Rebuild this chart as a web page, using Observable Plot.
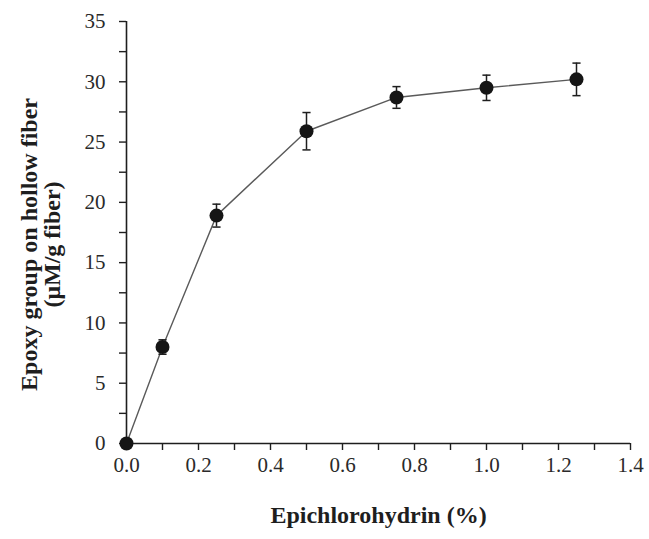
<!DOCTYPE html>
<html>
<head>
<meta charset="utf-8">
<script src="https://cdn.jsdelivr.net/npm/d3@7"></script>
<script src="https://cdn.jsdelivr.net/npm/@observablehq/plot@0.6"></script>
<style>
  html, body { margin: 0; padding: 0; background: #fff; }
</style>
</head>
<body>
<div id="chart"></div>
<script>
// Data
const epichlorohydrin = [0, 0.1, 0.25, 0.5, 0.75, 1.0, 1.25];
const epoxyGroup      = [0, 8.0, 18.9, 25.9, 28.7, 29.5, 30.2];
const errorValue      = [0, 0.6, 0.95, 1.55, 0.9, 1.05, 1.35];

const xMajorTicks = [0, 0.2, 0.4, 0.6, 0.8, 1.0, 1.2, 1.4];
const xMinorTicks = [0.1, 0.3, 0.5, 0.7, 0.9, 1.1, 1.3];
const yMajorTicks = [0, 5, 10, 15, 20, 25, 30, 35];
const yMinorTicks = [2.5, 7.5, 12.5, 17.5, 22.5, 27.5, 32.5];

const xTitle = "Epichlorohydrin (%)";
const yTitle = "Epoxy group on hollow fiber\n(μM/g fiber)";

const data = epichlorohydrin.map((x, i) => ({x, y: epoxyGroup[i], e: errorValue[i]}));
const errData = data.filter(d => d.e > 0);

const ink = "#1e1e1e";

// horizontal-line symbol for error-bar caps
const capSymbol = {
  draw(ctx, size) {
    const w = Math.sqrt(size) / 2;
    ctx.moveTo(-w, 0);
    ctx.lineTo(w, 0);
  }
};

const chart = Plot.plot({
  width: 649,
  height: 539,
  marginLeft: 126,
  marginRight: 19,
  marginTop: 21,
  marginBottom: 96,
  style: {fontFamily: "'Liberation Serif', 'Times New Roman', serif", fontSize: "21px", color: ink, background: "#fff"},
  x: {domain: [0, 1.4]},
  y: {domain: [0, 35]},
  marks: [
    Plot.axisX({ticks: xMinorTicks, tickFormat: () => "", tickSize: 7, stroke: ink, strokeWidth: 1.4, label: null}),
    Plot.axisX({ticks: xMajorTicks, tickFormat: d => d.toFixed(1), tickSize: 7, tickPadding: 7, stroke: ink, strokeWidth: 1.4, fill: "#2a2a2a", label: null}),
    Plot.axisY({ticks: yMinorTicks, tickFormat: () => "", tickSize: 7, tickPadding: 15, stroke: ink, strokeWidth: 1.4, label: null}),
    Plot.axisY({ticks: yMajorTicks, tickFormat: d => String(d), tickSize: 7, tickPadding: 14, stroke: ink, strokeWidth: 1.4, fill: "#2a2a2a", label: null}),
    Plot.ruleY([0], {stroke: ink, strokeWidth: 1.6}),
    Plot.ruleX([0], {stroke: ink, strokeWidth: 1.6}),
    Plot.line(data, {x: "x", y: "y", stroke: "#5a5a5a", strokeWidth: 1.4}),
    Plot.ruleX(errData, {x: "x", y1: d => d.y - d.e, y2: d => d.y + d.e, stroke: ink, strokeWidth: 1.5}),
    Plot.dot(errData, {x: "x", y: d => d.y + d.e, symbol: capSymbol, r: 4.6, stroke: ink, strokeWidth: 1.5, fill: "none"}),
    Plot.dot(errData, {x: "x", y: d => d.y - d.e, symbol: capSymbol, r: 4.6, stroke: ink, strokeWidth: 1.5, fill: "none"}),
    Plot.dot(data, {x: "x", y: "y", r: 7, fill: "#151515", stroke: "none"}),
    Plot.text([xTitle], {frameAnchor: "bottom", textAnchor: "middle", dy: 79, text: d => d, fontWeight: "bold", fontSize: 24, fill: ink}),
    Plot.text([yTitle], {frameAnchor: "left", textAnchor: "middle", lineAnchor: "middle", rotate: -90, dx: -85, dy: 12, text: d => d, fontWeight: "bold", fontSize: 24, lineHeight: 0.95, fill: ink})
  ]
});

document.getElementById("chart").appendChild(chart);
</script>
</body>
</html>
